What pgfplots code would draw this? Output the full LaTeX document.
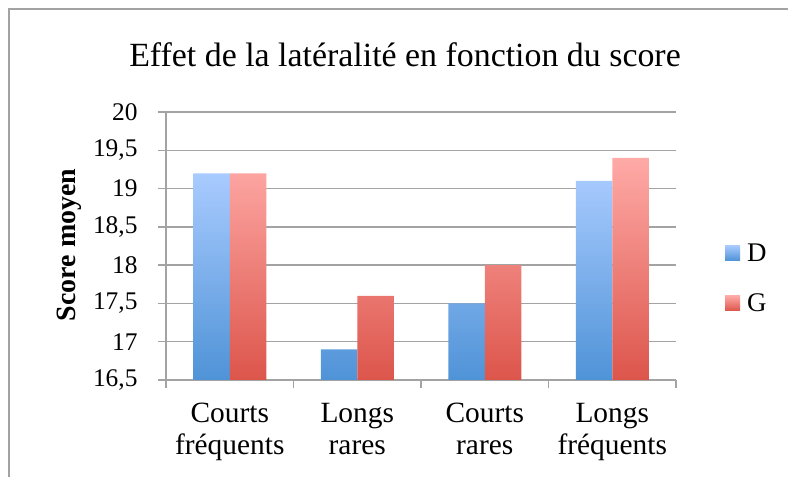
\documentclass[border=0pt]{standalone}
\usepackage{pgfplots}
\pgfplotsset{compat=1.18}
\usepackage{fontspec}
\setmainfont{Liberation Serif}
\definecolor{gridgray}{HTML}{A3A3A3}
\definecolor{dtop}{HTML}{A9CBFF}
\definecolor{dbot}{HTML}{4F93D7}
\definecolor{gtop}{HTML}{FFAAA7}
\definecolor{gbot}{HTML}{DC554B}

\begin{document}
\begin{tikzpicture}
\useasboundingbox (0,0) rectangle (788bp,477bp);
\draw[gridgray, line width=1.5bp] (9bp,0) -- (9bp,468bp) -- (788bp,468bp);
\node[font=\fontsize{34}{40}\selectfont, anchor=base] at (405bp,410bp) {Effet de la latéralité en fonction du score};
\node[font=\fontsize{28}{32}\selectfont\bfseries, rotate=90, anchor=base] at (75bp,232bp) {Score moyen};
\begin{axis}[
  at={(166bp,97bp)}, anchor=south west,
  scale only axis, width=510bp, height=268bp,
  ybar=0pt, bar width=36.5bp,
  xmin=-0.5, xmax=3.5, ymin=0, ymax=3.5,
  y filter/.expression={y-16.5},
  xtick={-0.5,0.5,1.5,2.5,3.5}, xticklabels={},
  extra x ticks={0,1,2,3},
  extra x tick labels={Courts\\fréquents, Longs\\rares, Courts\\rares, Longs\\fréquents},
  extra x tick style={major tick length=0pt, tick label style={align=center}},
  ytick={0,0.5,...,3.5},
  yticklabels={{16,5},17,{17,5},18,{18,5},19,{19,5},20},
  ymajorgrids, grid style={gridgray, line width=1.5bp},
  axis x line*=bottom, axis y line*=left,
  axis line style={gridgray, line width=1.5bp},
  tick style={gridgray, line width=1.5bp},
  major tick length=8bp, tick align=outside,
  tick label style={font=\fontsize{25.5}{30}\selectfont, text=black},
  y tick label style={xshift=-17bp},
  x tick label style={font=\fontsize{29.5}{32}\selectfont, yshift=-20bp},
  legend style={at={(1.096,0.38)}, anchor=west, draw=none, fill=none, inner sep=0pt,
    font=\fontsize{27}{30}\selectfont, row sep=27bp,
    /tikz/every odd column/.append style={column sep=5bp}},
  legend image code/.code={\path[#1, draw=none] (0bp,-7.5bp) rectangle (15bp,7.5bp);},
]
\addplot[draw=none, top color=dtop, bottom color=dbot] coordinates {(0,19.2) (1,16.9) (2,17.5) (3,19.1)};
\addlegendentry{D}
\addplot[draw=none, top color=gtop, bottom color=gbot] coordinates {(0,19.2) (1,17.6) (2,18.0) (3,19.4)};
\addlegendentry{G}
\end{axis}
\end{tikzpicture}
\end{document}
